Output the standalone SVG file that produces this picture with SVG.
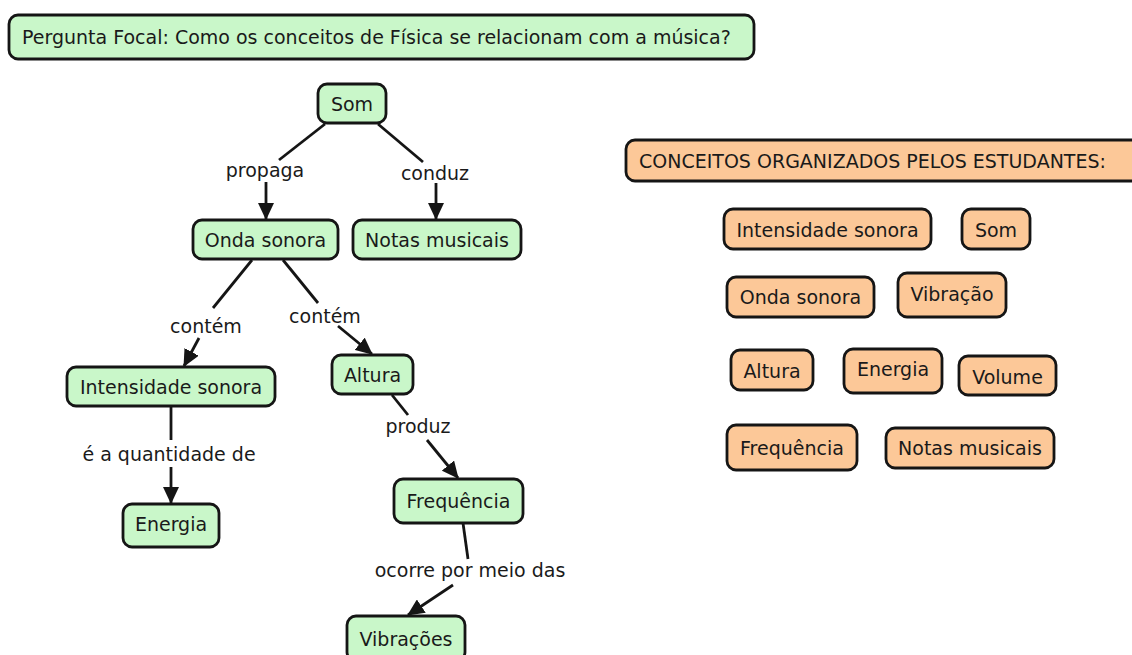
<svg xmlns="http://www.w3.org/2000/svg" width="1132" height="655" viewBox="0 0 1132 655">
<style>
.g{fill:#c9f7c9;stroke:#151515;stroke-width:2.8}
.o{fill:#fcc898;stroke:#151515;stroke-width:2.8}
text{font-family:"DejaVu Sans",Verdana,sans-serif;font-size:19px;fill:#1a1a1a}
.c{text-anchor:middle}
.l{stroke:#151515;stroke-width:2.8;fill:none}
.a{stroke:#151515;stroke-width:2.8;fill:none;marker-end:url(#ah)}
</style>
<defs>
<marker id="ah" viewBox="0 0 17 16" refX="16" refY="8" markerWidth="17" markerHeight="16" markerUnits="userSpaceOnUse" orient="auto">
<path d="M0,0 L17,8 L0,16 z" fill="#151515"/>
</marker>
</defs>
<rect width="1132" height="655" fill="#ffffff"/>
<g id="connectors">
<line class="l" x1="325" y1="124" x2="279" y2="160"/>
<text class="c" x="265" y="177">propaga</text>
<line class="a" x1="266" y1="182" x2="266" y2="219"/>
<line class="l" x1="378" y1="124" x2="423" y2="162"/>
<text class="c" x="435" y="180">conduz</text>
<line class="a" x1="436" y1="183" x2="436" y2="219"/>
<line class="l" x1="252" y1="260" x2="213" y2="308"/>
<text class="c" x="206" y="333">contém</text>
<line class="a" x1="199" y1="338" x2="184" y2="366"/>
<line class="l" x1="283" y1="260" x2="318" y2="303"/>
<text class="c" x="325" y="323">contém</text>
<line class="a" x1="338" y1="326" x2="372" y2="354"/>
<line class="l" x1="171" y1="406" x2="171" y2="440"/>
<text class="c" x="169" y="461">é a quantidade de</text>
<line class="a" x1="171" y1="467" x2="171" y2="503"/>
<line class="l" x1="392" y1="395" x2="408" y2="415"/>
<text class="c" x="418" y="433">produz</text>
<line class="a" x1="427" y1="440" x2="458" y2="478"/>
<line class="l" x1="463" y1="523" x2="468" y2="559"/>
<text class="c" x="470" y="577">ocorre por meio das</text>
<line class="a" x1="453" y1="585" x2="408" y2="615"/>
</g>
<g id="focal"><rect class="g" x="9" y="15" width="745" height="44" rx="9"/><text x="22" y="44">Pergunta Focal: Como os conceitos de Física se relacionam com a música?</text></g>
<g id="som"><rect class="g" x="318" y="84" width="68" height="39" rx="9"/><text class="c" x="352" y="111">Som</text></g>
<g id="onda"><rect class="g" x="193" y="220" width="145" height="39" rx="9"/><text class="c" x="265.5" y="247">Onda sonora</text></g>
<g id="notas"><rect class="g" x="353" y="220" width="168" height="39" rx="9"/><text class="c" x="437" y="247">Notas musicais</text></g>
<g id="intensidade"><rect class="g" x="67" y="367" width="208" height="39" rx="9"/><text class="c" x="171" y="394">Intensidade sonora</text></g>
<g id="altura"><rect class="g" x="332" y="355" width="81" height="39" rx="9"/><text class="c" x="372.5" y="382">Altura</text></g>
<g id="energia"><rect class="g" x="123" y="504" width="96" height="43" rx="9"/><text class="c" x="171" y="531">Energia</text></g>
<g id="frequencia"><rect class="g" x="394" y="479" width="129" height="44" rx="9"/><text class="c" x="458.5" y="508">Frequência</text></g>
<g id="vibracoes"><rect class="g" x="347" y="616" width="118" height="45" rx="9"/><text class="c" x="406" y="646">Vibrações</text></g>
<g id="conceitos"><rect class="o" x="626" y="140" width="520" height="41" rx="9"/><text x="639" y="168">CONCEITOS ORGANIZADOS PELOS ESTUDANTES:</text></g>
<g id="o-intensidade"><rect class="o" x="724" y="209" width="207" height="40" rx="9"/><text class="c" x="827.5" y="237">Intensidade sonora</text></g>
<g id="o-som"><rect class="o" x="962" y="209" width="68" height="40" rx="9"/><text class="c" x="996" y="237">Som</text></g>
<g id="o-onda"><rect class="o" x="727" y="277" width="147" height="40" rx="9"/><text class="c" x="800.5" y="304">Onda sonora</text></g>
<g id="o-vibracao"><rect class="o" x="898" y="273" width="108" height="44" rx="9"/><text class="c" x="952" y="301">Vibração</text></g>
<g id="o-altura"><rect class="o" x="731" y="350" width="82" height="40" rx="9"/><text class="c" x="772" y="378">Altura</text></g>
<g id="o-energia"><rect class="o" x="844" y="349" width="98" height="44" rx="9"/><text class="c" x="893" y="376">Energia</text></g>
<g id="o-volume"><rect class="o" x="959" y="356" width="97" height="39" rx="9"/><text class="c" x="1007.5" y="384">Volume</text></g>
<g id="o-frequencia"><rect class="o" x="727" y="425" width="130" height="45" rx="9"/><text class="c" x="792" y="455">Frequência</text></g>
<g id="o-notas"><rect class="o" x="886" y="428" width="168" height="40" rx="9"/><text class="c" x="970" y="455">Notas musicais</text></g>
</svg>
